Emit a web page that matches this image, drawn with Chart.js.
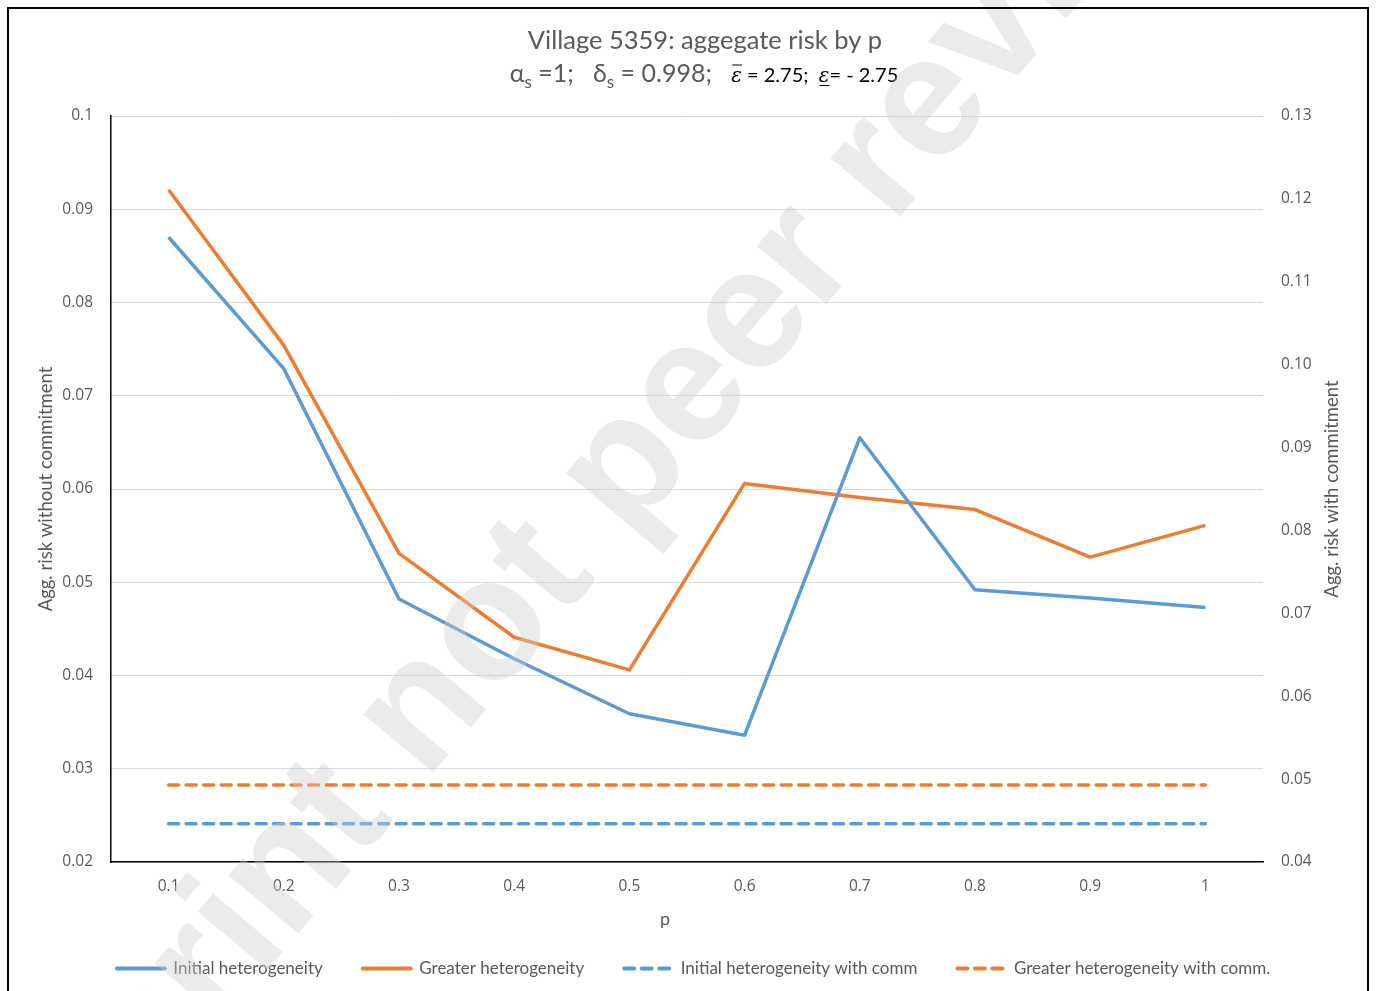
<!DOCTYPE html>
<html>
<head>
<meta charset="utf-8">
<script src="https://cdn.jsdelivr.net/npm/chart.js@4"></script>
<style>
  body { margin: 0; background: #fff; }
  #wrap { position: relative; width: 1377px; height: 991px; overflow: hidden; }
  #chart { position: absolute; left: 0; top: 0; }
  #frame { position: absolute; left: 7px; top: 7px; width: 1358px; height: 1000px; border: 2px solid #000; pointer-events: none; }
</style>
</head>
<body>
<div id="wrap">
  <canvas id="chart" width="1377" height="991"></canvas>
  <div id="frame"></div>
</div>
<script>
// values
const pLabels = ['0.1', '0.2', '0.3', '0.4', '0.5', '0.6', '0.7', '0.8', '0.9', '1'];
const initialHet = [0.0870, 0.0729, 0.0482, 0.0418, 0.0359, 0.0336, 0.0655, 0.0492, 0.0483, 0.0473];
const greaterHet = [0.0921, 0.0754, 0.0531, 0.0441, 0.0406, 0.0606, 0.0591, 0.0578, 0.0527, 0.0561];
const initialHetComm = [0.0446, 0.0446, 0.0446, 0.0446, 0.0446, 0.0446, 0.0446, 0.0446, 0.0446, 0.0446];
const greaterHetComm = [0.0493, 0.0493, 0.0493, 0.0493, 0.0493, 0.0493, 0.0493, 0.0493, 0.0493, 0.0493];

const BLUE = '#5b9bd5';
const ORANGE = '#ed7d31';
const TEXT = '#595959';
const DASH = [10, 7.5];

// legend row sits lower (and a bit right) of its reserved box; move it after layout
const legendShift = {
    id: 'legendShift',
    afterLayout(chart) {
        chart.legend.top = 920;
        chart.legend.bottom = 991;
        chart.legend.left += 6;
        chart.legend.right += 6;
    }
};

// two title lines (second one has subscripts), x title and right axis title
const titles = {
    id: 'titles',
    afterDraw(chart) {
        const ctx = chart.ctx;
        ctx.save();
        ctx.fillStyle = TEXT;
        ctx.textBaseline = 'alphabetic';
        ctx.textAlign = 'left';

        ctx.font = '25.5px Lato';
        const t1 = 'Village 5359: aggegate risk by p';
        ctx.fillText(t1, 705 - ctx.measureText(t1).width / 2, 49);

        const parts = [
            { t: 'α', f: '25px Lato' },
            { t: 's', f: '17px Lato', dy: 6 },
            { t: ' =1;   δ', f: '25px Lato' },
            { t: 's', f: '17px Lato', dy: 6 },
            { t: ' = 0.998;   ', f: '25px Lato' },
            { t: 'ε', f: 'italic 20px "DejaVu Serif"', c: '#000', over: true },
            { t: ' = 2.75;  ', f: '20px Lato', c: '#000' },
            { t: 'ε', f: 'italic 20px "DejaVu Serif"', c: '#000', under: true },
            { t: '= - 2.75', f: '20px Lato', c: '#000' }
        ];
        let total = 0;
        parts.forEach(p => { ctx.font = p.f; p.w = ctx.measureText(p.t).width; total += p.w; });
        let x = 704 - total / 2;
        const base = 82;
        parts.forEach(p => {
            ctx.font = p.f;
            ctx.fillStyle = p.c || TEXT;
            ctx.fillText(p.t, x, base + (p.dy || 0));
            if (p.over || p.under) {
                ctx.strokeStyle = '#000';
                ctx.lineWidth = 1;
                ctx.beginPath();
                const y = p.over ? base - 17 : base + 3.5;
                ctx.moveTo(x + 1, y);
                ctx.lineTo(x + p.w, y);
                ctx.stroke();
            }
            x += p.w;
        });

        ctx.fillStyle = TEXT;
        ctx.font = '18px Lato';
        ctx.textAlign = 'center';
        ctx.textBaseline = 'middle';
        ctx.fillText('p', 665, 919);

        // right axis title, reading bottom to top
        const area = chart.chartArea;
        ctx.translate(1332, (area.top + area.bottom) / 2);
        ctx.rotate(-Math.PI / 2);
        ctx.font = '18.5px Lato';
        ctx.fillText('Agg. risk with commitment', 0, 0);
        ctx.restore();
    }
};

// faint diagonal watermark laid over the chart
const watermark = {
    id: 'watermark',
    afterDraw(chart) {
        const ctx = chart.ctx;
        ctx.save();
        ctx.translate(632, 462);
        ctx.rotate(-50 * Math.PI / 180);
        ctx.font = 'bold 172px "Liberation Sans"';
        ctx.fillStyle = 'rgba(205,205,205,0.4)';
        ctx.textAlign = 'center';
        ctx.textBaseline = 'middle';
        ctx.fillText('Preprint not peer reviewed', 0, 0);
        ctx.restore();
    }
};

const ctx = document.getElementById('chart').getContext('2d');
const chart = new Chart(ctx, {
    type: 'line',
    data: {
        labels: pLabels,
        datasets: [
            {
                label: 'Initial heterogeneity',
                data: initialHet,
                borderColor: BLUE,
                backgroundColor: BLUE,
                yAxisID: 'y'
            },
            {
                label: 'Greater heterogeneity',
                data: greaterHet,
                borderColor: ORANGE,
                backgroundColor: ORANGE,
                yAxisID: 'y'
            },
            {
                label: 'Initial heterogeneity with comm',
                data: initialHetComm,
                borderColor: BLUE,
                backgroundColor: BLUE,
                borderDash: DASH,
                borderCapStyle: 'round',
                yAxisID: 'y2'
            },
            {
                label: 'Greater heterogeneity with comm.',
                data: greaterHetComm,
                borderColor: ORANGE,
                backgroundColor: ORANGE,
                borderDash: DASH,
                borderCapStyle: 'round',
                yAxisID: 'y2'
            }
        ]
    },
    options: {
        responsive: false,
        animation: false,
        layout: {
            padding: { top: 116, left: 8, right: 10, bottom: 51 }
        },
        elements: {
            line: { borderWidth: 3.5, tension: 0, borderJoinStyle: 'round' },
            point: { radius: 0, hoverRadius: 0 }
        },
        plugins: {
            title: { display: false },
            tooltip: { enabled: false },
            legend: {
                position: 'bottom',
                maxHeight: 20,
                labels: {
                    color: TEXT,
                    font: { family: 'Lato', size: 17 },
                    usePointStyle: true,
                    pointStyleWidth: 48,
                    boxHeight: 4,
                    padding: 40,
                    generateLabels(chart) {
                        return chart.data.datasets.map((ds, i) => ({
                            text: ds.label,
                            fillStyle: ds.borderColor,
                            strokeStyle: ds.borderColor,
                            lineWidth: 4,
                            lineDash: ds.borderDash ? DASH : [],
                            lineCap: 'round',
                            pointStyle: 'line',
                            fontColor: TEXT,
                            hidden: false,
                            datasetIndex: i
                        }));
                    }
                }
            }
        },
        scales: {
            x: {
                offset: true,
                grid: { drawOnChartArea: false, drawTicks: false },
                border: { color: '#000', width: 1.5 },
                ticks: {
                    color: TEXT,
                    font: { family: 'Open Sans', size: 15.5 },
                    padding: 15,
                    maxRotation: 0
                },
                afterFit(scale) { scale.height = 58; }
            },
            y: {
                position: 'left',
                min: 0.02,
                max: 0.1,
                grid: { color: '#d9d9d9', lineWidth: 1, drawTicks: false },
                border: { color: '#000', width: 1.5 },
                ticks: {
                    stepSize: 0.01,
                    color: TEXT,
                    font: { family: 'Open Sans', size: 15.5 },
                    padding: 18,
                    callback: v => String(parseFloat(v.toFixed(3)))
                },
                title: {
                    display: true,
                    text: 'Agg. risk without commitment',
                    color: TEXT,
                    font: { family: 'Lato', size: 18.5 },
                    padding: { top: 27, bottom: 0 }
                },
                afterFit(scale) { scale.width = 103; }
            },
            y2: {
                position: 'right',
                min: 0.04,
                max: 0.13,
                grid: { drawOnChartArea: false, drawTicks: false },
                border: { display: false },
                ticks: {
                    stepSize: 0.01,
                    color: TEXT,
                    font: { family: 'Open Sans', size: 15.5 },
                    padding: 18,
                    callback: v => v.toFixed(2)
                },
                afterFit(scale) { scale.width = 104; }
            }
        }
    },
    plugins: [legendShift, titles, watermark]
});
</script>
</body>
</html>
